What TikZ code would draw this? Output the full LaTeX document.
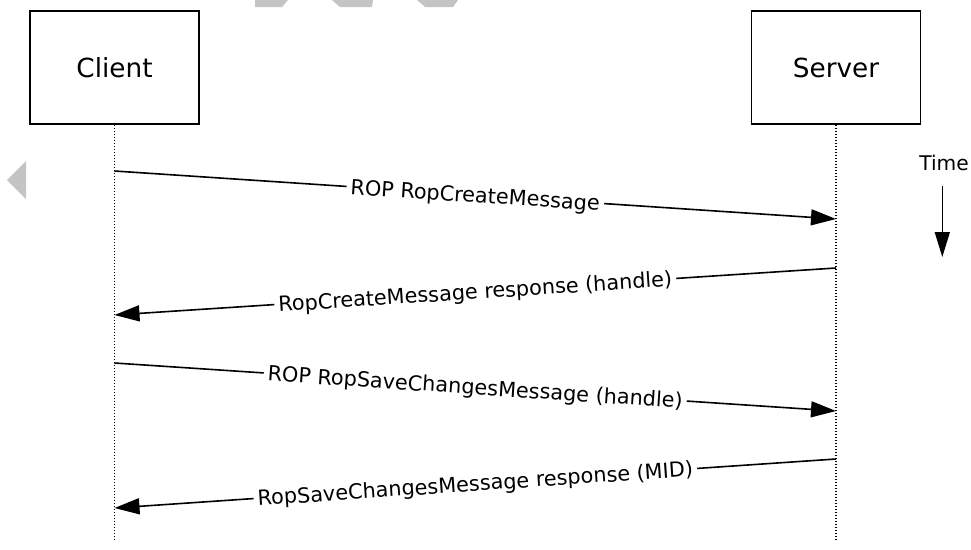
\documentclass[tikz,border=0pt]{standalone}
\usepackage{fontspec}
\setmainfont{DejaVu Sans}
\usetikzlibrary{arrows.meta}
\definecolor{wm}{RGB}{196,196,196}
\begin{document}
\begin{tikzpicture}[x=1pt,y=-1pt,
  actor/.style={draw, line width=1.7pt, minimum width=169pt, minimum height=113pt, inner sep=0pt, font=\fontsize{26.3}{30}\selectfont},
  lifeline/.style={line width=1.6pt, dash pattern=on 1.6pt off 1.4pt},
  msg/.style={line width=1.6pt, -{Triangle[length=25pt,width=16pt]}},
  lbl/.style={midway, sloped, fill=white, inner xsep=4pt, inner ysep=1pt, text height=15pt, text depth=0pt, font=\fontsize{20.8}{24}\selectfont},
  timearrow/.style={line width=1.6pt, -{Triangle[length=25pt,width=15pt]}}]
\useasboundingbox (0,0) rectangle (971,549);
% faint watermark shapes
\fill[wm] (7,180) -- (26,161) -- (26,199) -- cycle;
\fill[wm] (255,0) -- (288,0) -- (282,7) -- (255,7) -- cycle;
\fill[wm] (332,0) -- (373,0) -- (372,7) -- (340,7) -- cycle;
\fill[wm] (417,0) -- (458,0) -- (453,7) -- (425,7) -- cycle;
% actors
\node[actor] (client) at (114.5,67.5) {Client};
\node[actor] (server) at (836,67.5) {Server};
\coordinate (cend) at (114.5,540);
\coordinate (send) at (836,540);
\draw[lifeline] (client.south) -- (cend);
\draw[lifeline] (server.south) -- (send);
% message points
\coordinate (c1) at (114.5,171);
\coordinate (s1) at (836,219);
\coordinate (s2) at (836,268);
\coordinate (c2) at (114.5,315);
\coordinate (c3) at (114.5,363);
\coordinate (s3) at (836,411);
\coordinate (s4) at (836,459);
\coordinate (c4) at (114.5,508);
\draw[msg] (c1) -- node[lbl] {ROP RopCreateMessage} (s1);
\draw[msg] (s2) -- node[lbl] {RopCreateMessage response (handle)} (c2);
\draw[msg] (c3) -- node[lbl] {ROP RopSaveChangesMessage (handle)} (s3);
\draw[msg] (s4) -- node[lbl] {RopSaveChangesMessage response (MID)} (c4);
% time
\node[font=\fontsize{20.2}{24}\selectfont] (time) at (944,163) {Time};
\coordinate (tstart) at (942.3,186);
\coordinate (tend) at (942.3,257);
\draw[timearrow] (tstart) -- (tend);
\end{tikzpicture}
\end{document}
